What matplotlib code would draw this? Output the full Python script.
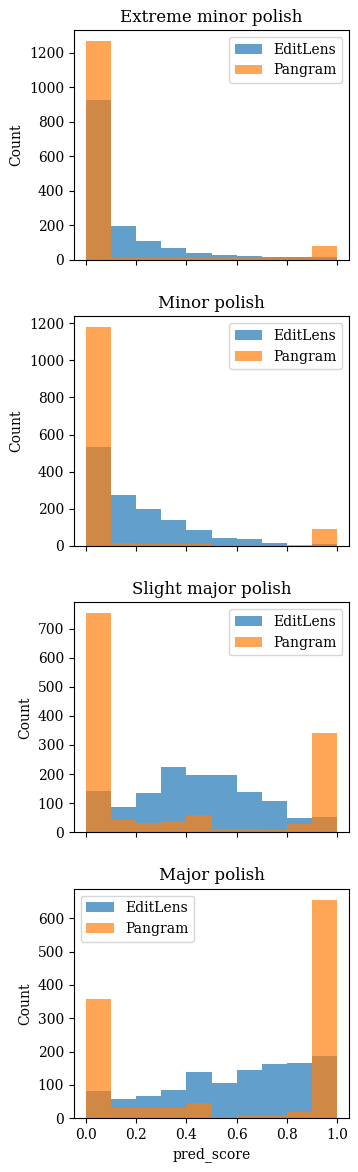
import numpy as np
import matplotlib
matplotlib.use("Agg")
import matplotlib.pyplot as plt

plt.rcParams['font.family'] = ['DejaVu Serif']

titles = ["Extreme minor polish", "Minor polish", "Slight major polish", "Major polish"]
bin_edges = [0.0, 0.1, 0.2, 0.3, 0.4, 0.5, 0.6, 0.7, 0.8, 0.9, 1.0]

editlens_counts = [
    [925, 198, 106, 65, 37, 25, 19, 13, 13, 13],
    [535, 275, 199, 140, 86, 42, 36, 14, 0, 9],
    [141, 86, 134, 223, 196, 196, 137, 107, 48, 52],
    [82, 57, 66, 84, 139, 105, 144, 162, 165, 186],
]
pangram_counts = [
    [1269, 12, 10, 10, 10, 8, 8, 8, 8, 77],
    [1179, 14, 11, 11, 11, 1, 1, 1, 4, 92],
    [753, 42, 31, 38, 59, 10, 10, 7, 28, 340],
    [357, 30, 30, 30, 45, 3, 8, 8, 20, 656],
]
legend_locs = ["upper right", "upper right", "upper right", "upper left"]

fig, axes = plt.subplots(4, 1, figsize=(3.58, 11.72), dpi=100, sharex=True)
fig.subplots_adjust(left=0.2059, right=0.9757, top=0.9744, bottom=0.0458, hspace=0.246)

edges = np.array(bin_edges)
centers = (edges[:-1] + edges[1:]) / 2
for ax, title, e, p, loc in zip(axes, titles, editlens_counts, pangram_counts, legend_locs):
    ax.hist(centers, bins=edges, weights=e, alpha=0.7, color="C0", label="EditLens")
    ax.hist(centers, bins=edges, weights=p, alpha=0.7, color="C1", label="Pangram")
    ax.set_title(title, fontsize=12)
    ax.set_ylabel("Count")
    ax.legend(loc=loc)

axes[-1].set_xlabel("pred_score")
fig.savefig("out.png", dpi=100)
